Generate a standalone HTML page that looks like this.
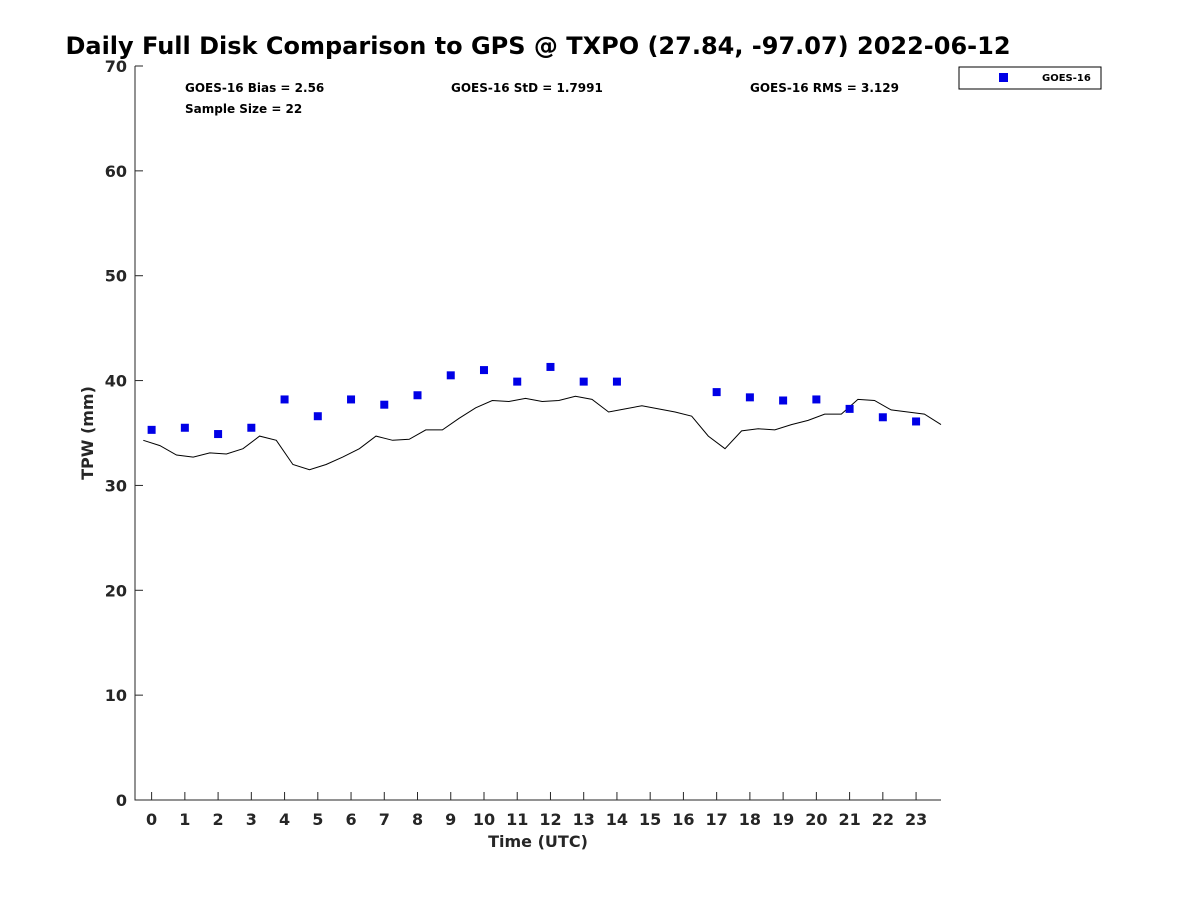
<!DOCTYPE html>
<html><head><meta charset="utf-8"><style>
body{margin:0;background:#fff;}
svg text{font-family:"DejaVu Sans","Liberation Sans",sans-serif;font-weight:bold;fill:#262626;}
</style></head><body>
<svg id="chart" width="1200" height="900" xmlns="http://www.w3.org/2000/svg">
<rect width="1200" height="900" fill="#fff"/>
<text x="538" y="54" text-anchor="middle" font-size="24" style="fill:#000">Daily Full Disk Comparison to GPS @ TXPO (27.84, -97.07) 2022-06-12</text>
<g id="axes"></g>
<g id="marks"></g>
<text x="185" y="92" font-size="12" style="fill:#000">GOES-16 Bias = 2.56</text>
<text x="185" y="113" font-size="12" style="fill:#000">Sample Size = 22</text>
<text x="451" y="92" font-size="12" style="fill:#000">GOES-16 StD = 1.7991</text>
<text x="750" y="92" font-size="12" style="fill:#000">GOES-16 RMS = 3.129</text>
<g>
<rect x="959" y="67" width="142" height="22" fill="#fff" stroke="#000" stroke-width="1"/>
<rect x="999" y="73" width="9" height="9" fill="#0000e6"/>
<text x="1042" y="81" font-size="10" style="fill:#000">GOES-16</text>
</g>
<text x="538" y="847" text-anchor="middle" font-size="16">Time (UTC)</text>
<text transform="translate(93,433) rotate(-90)" text-anchor="middle" font-size="16">TPW (mm)</text>
</svg>
<script>
const gpsTimes0 = -0.25;
const gpsValues = [34.3,33.8,32.9,32.7,33.1,33.0,33.5,34.7,34.3,32.0,31.5,32.0,32.7,33.5,34.7,34.3,34.4,35.3,35.3,36.4,37.4,38.1,38.0,38.3,38.0,
38.1,38.5,38.2,37.0,37.3,37.6,37.3,37.0,36.6,34.7,33.5,35.2,35.4,35.3,35.8,36.2,36.8,36.8,38.2,38.1,37.2,37.0,36.8,35.8];
const goesHours = [0,1,2,3,4,5,6,7,8,9,10,11,12,13,14,17,18,19,20,21,22,23];
const goesValues = [35.3,35.5,34.9,35.5,38.2,36.6,38.2,37.7,38.6,40.5,41.0,39.9,41.3,39.9,39.9,38.9,38.4,38.1,38.2,37.3,36.5,36.1];
const xTicks = [0,1,2,3,4,5,6,7,8,9,10,11,12,13,14,15,16,17,18,19,20,21,22,23];
const yTicks = [0,10,20,30,40,50,60,70];

const L=135,R=941,T=66,B=800,xmin=-0.5,xmax=23.75,ymin=0,ymax=70;
const X=v=>L+(v-xmin)/(xmax-xmin)*(R-L);
const Y=v=>B-(v-ymin)/(ymax-ymin)*(B-T);
const NS='http://www.w3.org/2000/svg';
function mk(tag,attrs,parent){const e=document.createElementNS(NS,tag);for(const k in attrs)e.setAttribute(k,attrs[k]);parent.appendChild(e);return e;}
const axes=document.getElementById('axes'),marks=document.getElementById('marks');
let a=mk('path',{d:`M${L},${T}V${B}H${R}`,fill:'none',stroke:'#262626','stroke-width':1},axes);


xTicks.forEach(t=>{
 const x=X(t);
 let l=mk('line',{x1:x,x2:x,y1:B,y2:B-8,stroke:'#262626'},axes);
 
 
 let tx=mk('text',{x:x,y:B+25,'text-anchor':'middle','font-size':16},axes);
 tx.textContent=t;
 
 
});
yTicks.forEach(t=>{
 const y=Y(t);
 let l=mk('line',{x1:L,x2:L+8,y1:y,y2:y,stroke:'#262626'},axes);
 
 
 let tx=mk('text',{x:L-8,y:y+6,'text-anchor':'end','font-size':16},axes);
 tx.textContent=t;
 
 
});
const pts=gpsValues.map((v,i)=>X(gpsTimes0+0.5*i).toFixed(1)+','+Y(v).toFixed(1)).join(' ');
let pl=mk('polyline',{points:pts,fill:'none',stroke:'#000','stroke-width':1},marks);


goesHours.forEach((h,i)=>{
 let r=mk('rect',{x:X(h)-4,y:Y(goesValues[i])-4,width:8,height:8,fill:'#0000e6'},marks);
 
 
});
</script>
</body></html>
